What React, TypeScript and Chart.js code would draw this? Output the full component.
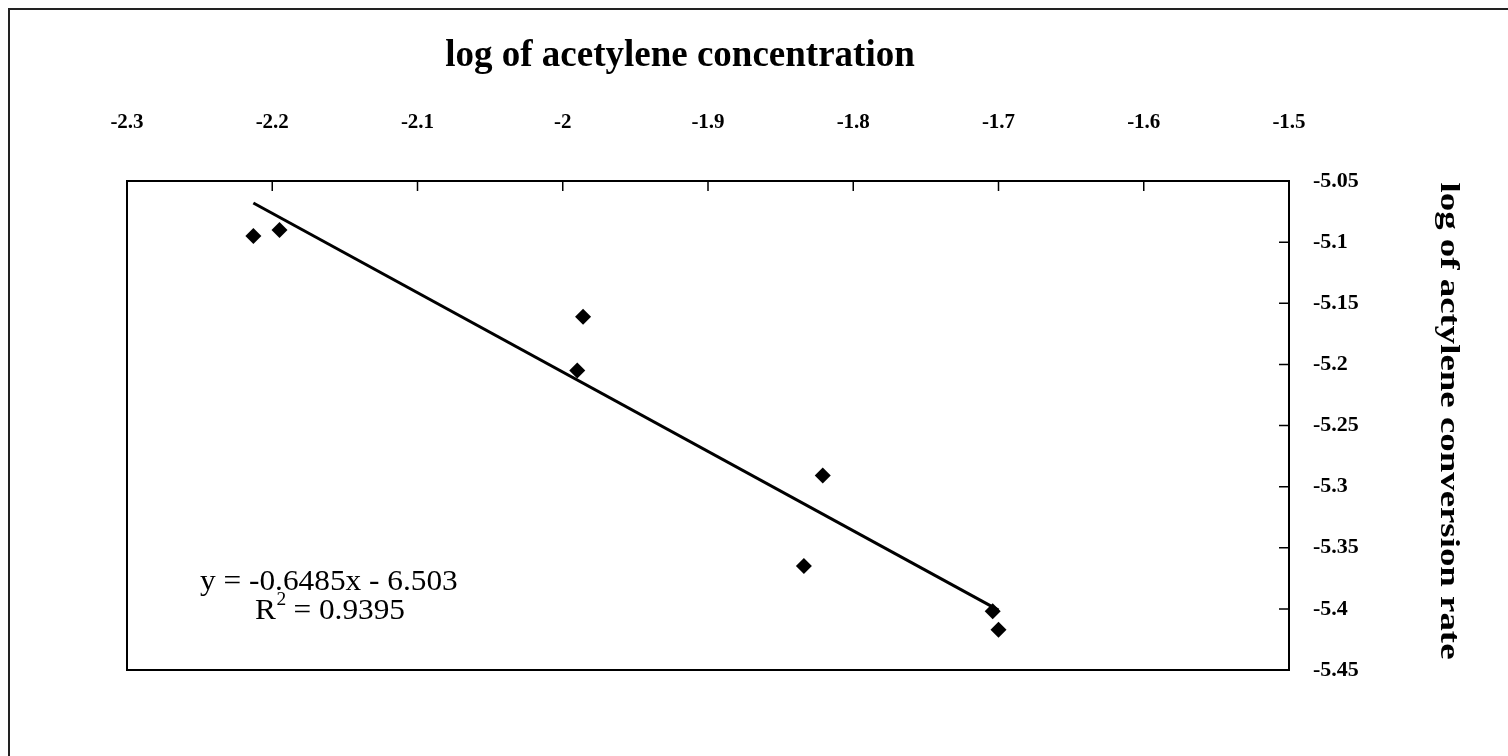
import React, { useEffect, useRef } from "react";
import { Chart, registerables } from "chart.js";

Chart.register(...registerables);

// ---- data ----
const xValues = [-2.213, -2.195, -1.986, -1.99, -1.821, -1.834, -1.704, -1.7];
const yValues = [-5.095, -5.09, -5.161, -5.205, -5.291, -5.365, -5.402, -5.417];
const trendX = [-2.213, -1.7];
const trendY = [-5.068, -5.401];

const xTitle = "log of acetylene concentration";
const yTitle = "log of actylene conversion rate";
const equationLine = "y = -0.6485x - 6.503";
const r2Value = "0.9395";

const xMin = -2.3;
const xMax = -1.5;
const xStep = 0.1;
const yMin = -5.45;
const yMax = -5.05;
const yStep = 0.05;

const fmt = (v: number) => String(Number(Number(v).toFixed(2)));

const SERIF = "'Liberation Serif', 'Times New Roman', serif";

const decorPlugin = {
  id: "decor",
  beforeDraw(chart: any) {
    const { ctx, width, height } = chart;
    ctx.save();
    ctx.fillStyle = "#ffffff";
    ctx.fillRect(0, 0, width, height);
    ctx.restore();
  },
  afterDraw(chart: any) {
    const { ctx, chartArea: a, scales, width, height } = chart;
    ctx.save();
    // outer frame (top and left lines)
    ctx.strokeStyle = "#222";
    ctx.lineWidth = 2;
    ctx.beginPath();
    ctx.moveTo(9, height);
    ctx.lineTo(9, 9);
    ctx.lineTo(width, 9);
    ctx.stroke();

    // plot frame
    ctx.strokeStyle = "#000";
    ctx.lineWidth = 2;
    ctx.strokeRect(a.left, a.top, a.right - a.left, a.bottom - a.top);

    // inward tick marks
    ctx.lineWidth = 1.5;
    ctx.beginPath();
    scales.x.ticks.forEach((t: any) => {
      const px = scales.x.getPixelForValue(t.value);
      if (px > a.left + 2 && px < a.right - 2) {
        ctx.moveTo(px, a.top);
        ctx.lineTo(px, a.top + 10);
      }
    });
    scales.y.ticks.forEach((t: any) => {
      const py = scales.y.getPixelForValue(t.value);
      if (py > a.top + 2 && py < a.bottom - 2) {
        ctx.moveTo(a.right, py);
        ctx.lineTo(a.right - 10, py);
      }
    });
    ctx.stroke();

    // top title
    ctx.fillStyle = "#000";
    ctx.font = `bold 37px ${SERIF}`;
    ctx.textAlign = "center";
    ctx.textBaseline = "middle";
    ctx.fillText(xTitle, 680, 56);

    // right title (rotated clockwise, stretched along its length like the scan)
    ctx.save();
    ctx.font = `bold 28px ${SERIF}`;
    const tw = ctx.measureText(yTitle).width;
    ctx.translate(1448, 421);
    ctx.rotate(Math.PI / 2);
    ctx.scale(477 / tw, 1);
    ctx.fillText(yTitle, 0, 0);
    ctx.restore();

    // equation (slightly widened, like the scanned label)
    const eqFont = `29px ${SERIF}`;
    const supFont = `18px ${SERIF}`;
    const sx = 1.08;
    ctx.save();
    ctx.translate(200, 0);
    ctx.scale(sx, 1);
    ctx.font = eqFont;
    ctx.textAlign = "left";
    ctx.textBaseline = "alphabetic";
    ctx.fillText(equationLine, 0, 590);
    const line2 = " = " + r2Value;
    const rW = ctx.measureText("R").width;
    const restW = ctx.measureText(line2).width;
    ctx.font = supFont;
    const sW = ctx.measureText("2").width;
    const total = rW + sW + restW;
    const x0 = (330 - 200) / sx - total / 2;
    ctx.font = eqFont;
    ctx.fillText("R", x0, 619);
    ctx.font = supFont;
    ctx.fillText("2", x0 + rW + 0.5, 605);
    ctx.font = eqFont;
    ctx.fillText(line2, x0 + rW + sW, 619);
    ctx.restore();
    ctx.restore();
  },
};

export default function App() {
  const canvasRef = useRef<HTMLCanvasElement | null>(null);

  useEffect(() => {
    if (!canvasRef.current) return;
    const points = xValues.map((x, i) => ({ x, y: yValues[i] }));
    const trend = trendX.map((x, i) => ({ x, y: trendY[i] }));
    const chart = new Chart(canvasRef.current, {
      type: "scatter",
      data: {
        datasets: [
          {
            label: "trend",
            data: trend,
            showLine: true,
            borderColor: "#000",
            borderWidth: 3,
            pointRadius: 0,
            fill: false,
          } as any,
          {
            label: "data",
            data: points,
            pointStyle: "rectRot",
            pointRadius: 8,
            pointBackgroundColor: "#000",
            pointBorderColor: "#000",
            pointBorderWidth: 0,
          } as any,
        ],
      },
      options: {
        animation: false,
        responsive: true,
        maintainAspectRatio: false,
        events: [],
        layout: { padding: { left: 127, top: 0, right: 0, bottom: 86 } },
        plugins: {
          legend: { display: false },
          tooltip: { enabled: false },
        },
        scales: {
          x: {
            type: "linear",
            position: "top",
            min: xMin,
            max: xMax,
            grid: { display: false, drawTicks: false },
            border: { display: false },
            ticks: {
              stepSize: xStep,
              autoSkip: false,
              maxRotation: 0,
              padding: 46,
              color: "#000",
              font: { family: SERIF, size: 21, weight: "bold" },
              callback: (v: any) => fmt(v),
            },
            afterFit: (s: any) => {
              s.height = 181;
            },
          },
          y: {
            type: "linear",
            position: "right",
            min: yMin,
            max: yMax,
            grid: { display: false, drawTicks: false },
            border: { display: false },
            ticks: {
              stepSize: yStep,
              autoSkip: false,
              padding: 24,
              color: "#000",
              font: { family: SERIF, size: 22, weight: "bold" },
              callback: (v: any) => fmt(v),
            },
            afterFit: (s: any) => {
              s.width = 1508 - 1289;
            },
          },
        },
      } as any,
      plugins: [decorPlugin],
    });
    return () => chart.destroy();
  }, []);

  return (
    <div style={{ position: "fixed", left: 0, top: 0, width: 1508, height: 756, background: "#fff" }}>
      <canvas ref={canvasRef} />
    </div>
  );
}
